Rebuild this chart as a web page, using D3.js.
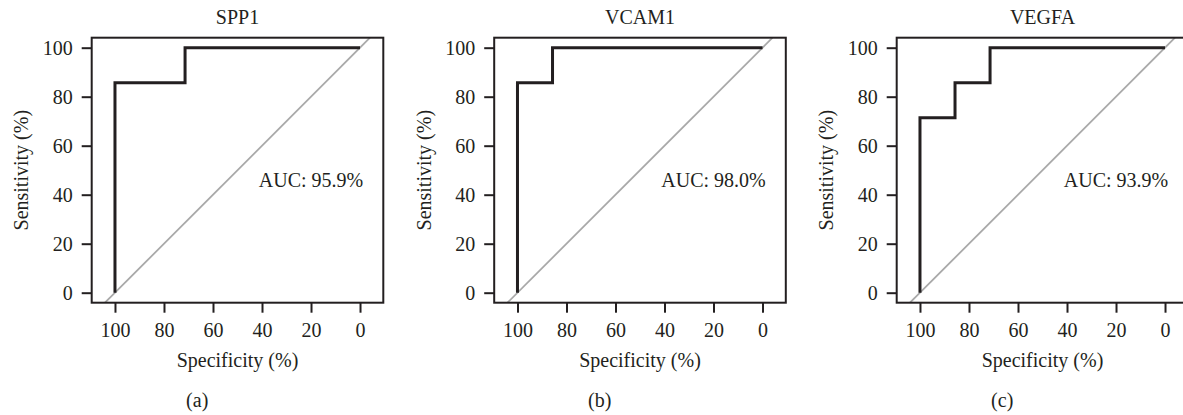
<!DOCTYPE html>
<html>
<head>
<meta charset="utf-8">
<script src="https://cdn.jsdelivr.net/npm/d3@7"></script>
<style>
  html, body { margin: 0; padding: 0; background: #fff; }
  svg text { font-family: "Liberation Serif", "Times New Roman", serif; fill: #231f20; }
</style>
</head>
<body>
<div id="chart"></div>
<script>
// ROC data (percent)
var genes = ["SPP1", "VCAM1", "VEGFA"];
var panelLabels = ["(a)", "(b)", "(c)"];
var aucText = ["AUC: 95.9%", "AUC: 98.0%", "AUC: 93.9%"];
var specificity = [
	[100, 100, 71.4, 71.4, 0],
	[100, 100, 85.7, 85.7, 0],
	[100, 100, 85.7, 85.7, 71.4, 71.4, 0]
];
var sensitivity = [
	[0, 85.7, 85.7, 100, 100],
	[0, 85.7, 85.7, 100, 100],
	[0, 71.4, 71.4, 85.7, 85.7, 100, 100]
];
var tickValues = [0, 20, 40, 60, 80, 100];

var W = 1183, H = 415;
var ink = "#231f20", fs = 20;
var panelStep = 402.5;
var box = { left: 91.7, top: 37.7, width: 291.6, height: 265 };

var svg = d3.select("#chart")
	.append("svg")
	.attr("width", W)
	.attr("height", H);

svg.append("rect").attr("width", W).attr("height", H).attr("fill", "#fff");

genes.forEach(function(gene, k) {
	var g = svg.append("g")
		.attr("transform", "translate(" + (k * panelStep) + ",0)");

	// Scales (specificity reversed, like pROC)
	var xScale = d3.scaleLinear()
		.domain([109.5, -9.5])
		.range([box.left, box.left + box.width]);
	var yScale = d3.scaleLinear()
		.domain([-4.08, 104.08])
		.range([box.top + box.height, box.top]);

	// Diagonal reference line
	g.append("line")
		.attr("x1", xScale(104.08)).attr("y1", yScale(-4.08))
		.attr("x2", xScale(-4.08)).attr("y2", yScale(104.08))
		.attr("stroke", "#a9a9a9")
		.attr("stroke-width", 1.8);

	// ROC curve
	var pts = specificity[k].map(function(s, i) { return [s, sensitivity[k][i]]; });
	var line = d3.line()
		.x(function(d) { return xScale(d[0]); })
		.y(function(d) { return yScale(d[1]); });
	g.append("path")
		.attr("d", line(pts))
		.attr("fill", "none")
		.attr("stroke", ink)
		.attr("stroke-width", 3)
		.attr("stroke-linejoin", "miter");

	// Box
	g.append("rect")
		.attr("x", box.left).attr("y", box.top)
		.attr("width", box.width).attr("height", box.height)
		.attr("fill", "none")
		.attr("stroke", ink)
		.attr("stroke-width", 2);

	// Axes
	var xAxis = d3.axisBottom(xScale).tickValues(tickValues).tickSize(10).tickSizeOuter(0).tickPadding(10);
	var yAxis = d3.axisLeft(yScale).tickValues(tickValues).tickSize(10).tickSizeOuter(0).tickPadding(9);

	var gx = g.append("g")
		.attr("transform", "translate(0," + (box.top + box.height) + ")")
		.call(xAxis);
	var gy = g.append("g")
		.attr("transform", "translate(" + box.left + ",0)")
		.call(yAxis);

	[gx, gy].forEach(function(a) {
		a.attr("font-family", null).attr("font-size", null);
		a.select(".domain").remove();
		a.selectAll(".tick line").attr("stroke", ink).attr("stroke-width", 2);
		a.selectAll(".tick text")
			.attr("fill", ink)
			.style("font-size", fs + "px");
	});

	var cx = box.left + box.width / 2;

	// Title
	g.append("text")
		.attr("x", cx).attr("y", 24)
		.attr("text-anchor", "middle")
		.style("font-size", fs + "px")
		.text(gene);

	// Axis titles
	g.append("text")
		.attr("x", cx).attr("y", 367)
		.attr("text-anchor", "middle")
		.style("font-size", fs + "px")
		.text("Specificity (%)");

	g.append("text")
		.attr("transform", "translate(28," + (box.top + box.height / 2) + ") rotate(-90)")
		.attr("text-anchor", "middle")
		.style("font-size", fs + "px")
		.text("Sensitivity (%)");

	// AUC label
	g.append("text")
		.attr("x", xScale(20)).attr("y", yScale(43))
		.attr("text-anchor", "middle")
		.style("font-size", fs + "px")
		.text(aucText[k]);

	// Panel label
	g.append("text")
		.attr("x", box.left + 105.5).attr("y", 407)
		.attr("text-anchor", "middle")
		.style("font-size", fs + "px")
		.text(panelLabels[k]);
});
</script>
</body>
</html>
